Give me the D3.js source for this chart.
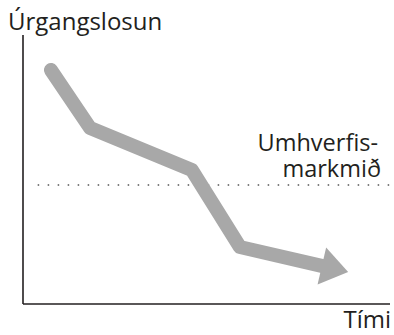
<!DOCTYPE html>
<html>
<head>
<meta charset="utf-8">
<script src="https://cdn.jsdelivr.net/npm/d3@7"></script>
<style>
  html, body { margin: 0; padding: 0; background: #fff; }
  svg { display: block; }
  text { font-family: "Open Sans", "Noto Sans", sans-serif; fill: #231f20; }
</style>
</head>
<body>
<svg id="chart" width="394" height="335"></svg>
<script>
// Emission path over time (arbitrary units, 0–100 on both axes)
const time = [7.6, 18.3, 46.0, 59.1, 88.6];
const emissions = [87.0, 65.4, 49.8, 21.2, 11.9];
const target = 44.2;
const yLabel = "Úrgangslosun";
const xLabel = "Tími";
const targetLabel = ["Umhverfis-", "markmið"];

const svg = d3.select("#chart");
const x = d3.scaleLinear().domain([0, 100]).range([23, 390]);
const y = d3.scaleLinear().domain([0, 100]).range([304, 35]);

// Axes: plain lines without ticks
svg.append("line")
  .attr("x1", x(0)).attr("x2", x(0))
  .attr("y1", y(100)).attr("y2", y(0))
  .attr("stroke", "#231f20").attr("stroke-width", 1.6);
svg.append("line")
  .attr("x1", x(0)).attr("x2", x(100))
  .attr("y1", y(0)).attr("y2", y(0))
  .attr("stroke", "#231f20").attr("stroke-width", 1.6);

// Target level (dotted)
svg.append("line")
  .attr("x1", x(4)).attr("x2", x(100))
  .attr("y1", y(target)).attr("y2", y(target))
  .attr("stroke", "#555").attr("stroke-width", 1.5)
  .attr("stroke-dasharray", "1.5 8.5");

// Emission path as a thick arrow
const pts = time.map((t, i) => [x(t), y(emissions[i])]);
const n = pts.length;
const tip = pts[n - 1], prev = pts[n - 2];
const dx = tip[0] - prev[0], dy = tip[1] - prev[1];
const len = Math.hypot(dx, dy);
const ux = dx / len, uy = dy / len;
const headLen = 27, headHalf = 19;
const base = [tip[0] - ux * headLen, tip[1] - uy * headLen];
const linePts = pts.slice(0, n - 1).concat([[base[0] + ux * 2, base[1] + uy * 2]]);

svg.append("path")
  .attr("d", d3.line()(linePts))
  .attr("fill", "none")
  .attr("stroke", "#a8a8a8")
  .attr("stroke-width", 14)
  .attr("stroke-linecap", "round")
  .attr("stroke-linejoin", "round");

svg.append("path")
  .attr("d", d3.line()([
    [base[0] - uy * headHalf, base[1] + ux * headHalf],
    tip,
    [base[0] + uy * headHalf, base[1] - ux * headHalf]
  ]) + "Z")
  .attr("fill", "#a8a8a8");

// Labels
svg.append("text")
  .attr("x", 8).attr("y", 30)
  .attr("font-size", 24)
  .text(yLabel);

svg.append("text")
  .attr("x", 391).attr("y", 328)
  .attr("text-anchor", "end")
  .attr("font-size", 24)
  .text(xLabel);

svg.append("text")
  .attr("text-anchor", "end")
  .attr("font-size", 23.5)
  .selectAll("tspan")
  .data(targetLabel)
  .join("tspan")
  .attr("x", (d, i) => i === 0 ? 378 : 381)
  .attr("y", (d, i) => 151 + i * 26)
  .text(d => d);
</script>
</body>
</html>
